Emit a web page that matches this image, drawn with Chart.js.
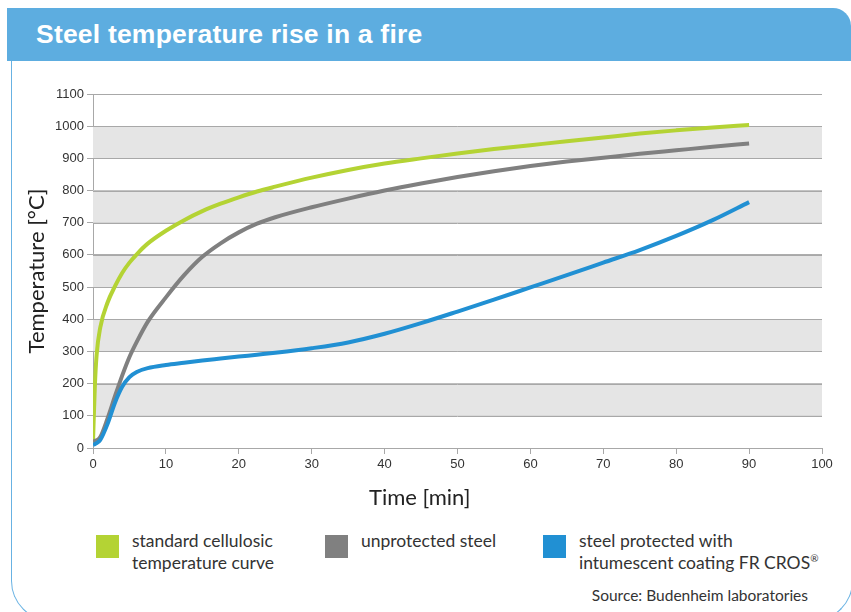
<!DOCTYPE html>
<html>
<head>
<meta charset="utf-8">
<script src="https://cdn.jsdelivr.net/npm/chart.js@4"></script>
<style>
  html, body { margin: 0; padding: 0; background: #fff; }
  body { width: 851px; height: 612px; position: relative; overflow: hidden; font-family: Lato, "Open Sans", sans-serif; color: #333; }
  #frame { position: absolute; left: 11px; top: 58px; width: 840px; height: 562px; border: 1.5px solid #68b2e3; border-top: none; border-radius: 0 0 40px 40px; }
  #header { position: absolute; left: 7px; top: 8px; width: 844px; height: 53px; background: #5dade0; border-top-right-radius: 18px; }
  #header h1 { margin: 0; position: absolute; left: 29px; top: 11px; font: bold 26.5px "Liberation Sans Narrow", "Liberation Sans", sans-serif; color: #fff; letter-spacing: 0.2px; }
  #wrap { position: absolute; left: 20px; top: 70px; width: 820px; height: 444px; }
  #xtitle { position: absolute; left: 369px; top: 483px; font-size: 22px; color: #222; }
  .leg { position: absolute; top: 530px; display: flex; align-items: flex-start; font-size: 17.5px; line-height: 22px; color: #333; }
  .leg .box { width: 23px; height: 23px; margin-top: 5px; margin-right: 13px; flex: none; }
  .leg sup { font-size: 10px; line-height: 0; }
  #source { position: absolute; right: 43px; top: 586px; font-size: 15.5px; color: #333; }
</style>
</head>
<body>
<div id="frame"></div>
<div id="header"><h1>Steel temperature rise in a fire</h1></div>
<div id="wrap"><canvas id="chart"></canvas></div>
<div id="xtitle">Time [min]</div>
<div id="legend"></div>
<div id="source">Source: Budenheim laboratories</div>
<script>
// time in minutes
var times = [0, 0.25, 0.5, 1, 2, 3, 4, 5, 6, 7.5, 10, 12.5, 15, 17.5, 20, 22.5, 25, 30, 35, 40, 45, 50, 55, 60, 65, 70, 75, 80, 85, 90]

// temperatures in °C
var cellulosic = [20, 190, 290, 375, 452, 502, 544, 576, 602, 635, 675, 708, 736, 759, 779, 797, 812, 840, 864, 884, 900, 915, 929, 941, 953, 965, 977, 987, 996, 1004]
var unprotected = [20, 22, 24, 34, 92, 160, 225, 283, 330, 392, 468, 537, 594, 636, 670, 697, 717, 748, 775, 800, 822, 842, 860, 876, 890, 902, 914, 925, 936, 946]
var protectedSteel = [10, 12, 15, 25, 75, 140, 190, 220, 236, 248, 258, 265, 272, 278, 284, 290, 296, 310, 328, 355, 388, 424, 461, 499, 537, 576, 615, 659, 708, 764]

var seriesLabels = ['standard cellulosic\ntemperature curve', 'unprotected steel', 'steel protected with\nintumescent coating FR CROS®']
var seriesColors = ['#b4d334', '#808080', '#2190d3']

var xTicks = { min: 0, max: 100, step: 10 }
var yTicks = { min: 0, max: 1100, step: 100 }

function points(ys) {
    return times.map(function (t, i) { return { x: t, y: ys[i] } })
}

// grey bands between every other pair of grid lines
var bandPlugin = {
    id: 'bands',
    beforeDatasetsDraw: function (chart) {
        var ctx = chart.ctx, area = chart.chartArea, y = chart.scales.y
        ctx.save()
        ctx.fillStyle = '#e5e5e5'
        for (var v = yTicks.min + yTicks.step; v < yTicks.max; v += 2 * yTicks.step) {
            var top = y.getPixelForValue(v + yTicks.step)
            var bottom = y.getPixelForValue(v)
            ctx.fillRect(area.left, top, area.right - area.left, bottom - top)
        }
        // redraw grid lines over the bands
        ctx.strokeStyle = '#a8a8a8'
        ctx.lineWidth = 1
        for (var w = yTicks.min; w <= yTicks.max; w += yTicks.step) {
            var p = Math.round(y.getPixelForValue(w)) + 0.5
            ctx.beginPath()
            ctx.moveTo(area.left, p)
            ctx.lineTo(area.right, p)
            ctx.stroke()
        }
        ctx.restore()
    }
}

var tickFont = { family: '"Liberation Sans Narrow", "Liberation Sans", sans-serif', size: 13 }
var titleFont = { family: 'Lato, "Open Sans", sans-serif', size: 22 }

var chart = new Chart(
    document.getElementById('chart'),
    {
        type: 'line',
        data: {
            datasets: [
                {
                    label: seriesLabels[0],
                    data: points(cellulosic),
                    borderColor: seriesColors[0],
                    backgroundColor: seriesColors[0],
                    order: 3,
                },
                {
                    label: seriesLabels[1],
                    data: points(unprotected),
                    borderColor: seriesColors[1],
                    backgroundColor: seriesColors[1],
                    order: 2,
                },
                {
                    label: seriesLabels[2],
                    data: points(protectedSteel),
                    borderColor: seriesColors[2],
                    backgroundColor: seriesColors[2],
                    order: 1,
                },
            ]
        },
        options: {
            responsive: true,
            maintainAspectRatio: false,
            animation: false,
            layout: { padding: { top: 24, right: 18, left: 0, bottom: 0 } },
            elements: {
                point: { radius: 0 },
                line: { borderWidth: 4, cubicInterpolationMode: 'monotone', borderCapStyle: 'butt' }
            },
            plugins: {
                legend: { display: false },
                tooltip: { enabled: false }
            },
            scales: {
                x: {
                    type: 'linear',
                    min: xTicks.min,
                    max: xTicks.max,
                    ticks: { stepSize: xTicks.step, color: '#333', font: tickFont, padding: 3, callback: function (v) { return String(v) } },
                    grid: { drawOnChartArea: false, drawTicks: true, tickLength: 6, color: '#a8a8a8' },
                    border: { color: '#a8a8a8' },
                    afterFit: function (scale) { scale.height = 66 }
                },
                y: {
                    min: yTicks.min,
                    max: yTicks.max,
                    ticks: { stepSize: yTicks.step, color: '#333', font: tickFont, padding: 3, callback: function (v) { return String(v) } },
                    grid: { color: '#a8a8a8', tickLength: 6 },
                    border: { color: '#a8a8a8' },
                    title: { display: true, text: 'Temperature [°C]', color: '#222', font: titleFont, padding: { top: 4, bottom: 4 } },
                    afterFit: function (scale) { scale.width = 73 }
                }
            }
        },
        plugins: [bandPlugin]
    }
);

// legend built from the same labels and colours
var legendX = [96, 325, 543]
var legend = document.getElementById('legend')
seriesLabels.forEach(function (label, i) {
    var item = document.createElement('div')
    item.className = 'leg'
    item.style.left = legendX[i] + 'px'
    var box = document.createElement('div')
    box.className = 'box'
    box.style.background = seriesColors[i]
    var text = document.createElement('div')
    text.innerHTML = label.split('\n').join('<br>').replace('®', '<sup>®</sup>')
    item.appendChild(box)
    item.appendChild(text)
    legend.appendChild(item)
})
</script>
</body>
</html>
